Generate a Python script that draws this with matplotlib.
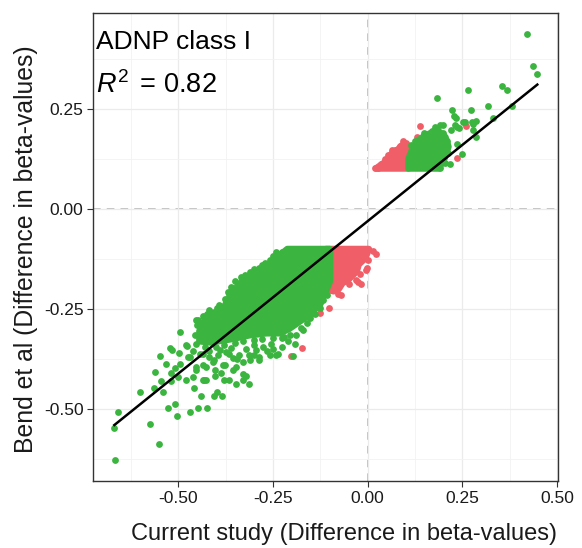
import numpy as np
import matplotlib
matplotlib.use("Agg")
import matplotlib.pyplot as plt
from matplotlib.patches import Polygon

plt.rcParams['font.family'] = ['Liberation Sans', 'DejaVu Sans']
plt.rcParams['axes.unicode_minus'] = False
plt.rcParams['mathtext.fontset'] = 'custom'
plt.rcParams['mathtext.it'] = 'Liberation Sans:italic'
plt.rcParams['mathtext.rm'] = 'Liberation Sans'

# current study (x) vs Bend et al (y), differences in beta-values
# green = significant in current study, red = not
green_x = [-0.669, -0.658, -0.667, -0.574, -0.552, -0.601, -0.561, -0.563, -0.548, -0.526,
           -0.508, -0.504, -0.468, -0.447, -0.424, -0.439, -0.458, -0.541, -0.545, -0.519,
           -0.533, -0.519, -0.517, -0.497, -0.478, -0.502, -0.481, -0.495, -0.453, -0.469,
           -0.444, -0.431, -0.427, -0.508, -0.406, -0.398, -0.385, -0.347, -0.330, -0.321,
           -0.314, -0.367, -0.380, -0.427, -0.435, -0.403, -0.462, -0.387,
           -0.495, -0.521, -0.480, -0.447, -0.436, -0.416, -0.444, -0.370, -0.334, -0.312,
           -0.279, -0.347, -0.387, -0.405, -0.365, -0.339, -0.286, -0.259, -0.242, -0.418,
           -0.392, -0.453,
           -0.474, -0.436, -0.418, -0.396, -0.374, -0.356, -0.330, -0.378, -0.402, -0.453,
           -0.347, -0.314, -0.294, -0.286, -0.277, -0.255, -0.242, -0.198, -0.193, -0.220,
           -0.171, -0.189, -0.153, -0.127, -0.118, -0.108, -0.436, -0.409, -0.383, -0.356,
           -0.330, -0.312, -0.286, -0.259, -0.237, -0.365, -0.339,
           -0.225, -0.250, -0.270, -0.300, -0.325, -0.350, -0.360, -0.378, -0.398, -0.425,
           -0.450, -0.455, -0.452,
           -0.430, -0.400, -0.380, -0.350, -0.330, -0.300, -0.280, -0.250, -0.225, -0.205,
           -0.175, -0.160, -0.140, -0.125,
           -0.420, -0.390, -0.360, -0.320, -0.300, -0.265, -0.225, -0.210, -0.460, -0.405,
           -0.345, -0.300, -0.250,
           0.420, 0.436, 0.448, 0.355, 0.369, 0.265, 0.183, 0.319, 0.381, 0.274,
           0.224, 0.332, 0.233, 0.287, 0.279, 0.252, 0.190, 0.220, 0.235, 0.287,
           0.248, 0.228, 0.257, 0.276, 0.230, 0.199, 0.241, 0.164, 0.133, 0.195,
           0.279, 0.235, 0.190, 0.217,
           0.115, 0.125, 0.145, 0.170, 0.178, 0.200, 0.210, 0.212, 0.205, 0.150]
green_y = [-0.548, -0.508, -0.628, -0.538, -0.588, -0.458, -0.408, -0.448, -0.368, -0.498,
           -0.488, -0.518, -0.508, -0.498, -0.498, -0.468, -0.448, -0.458, -0.429, -0.429,
           -0.386, -0.409, -0.353, -0.359, -0.343, -0.419, -0.428, -0.388, -0.401, -0.369,
           -0.361, -0.426, -0.394, -0.398, -0.468, -0.458, -0.468, -0.438, -0.428, -0.418,
           -0.438, -0.428, -0.428, -0.428, -0.428, -0.418, -0.419, -0.409,
           -0.308, -0.348, -0.340, -0.278, -0.268, -0.257, -0.328, -0.208, -0.169, -0.158,
           -0.139, -0.198, -0.244, -0.257, -0.211, -0.186, -0.148, -0.128, -0.107, -0.253,
           -0.240, -0.278,
           -0.369, -0.361, -0.369, -0.365, -0.357, -0.373, -0.382, -0.390, -0.403, -0.394,
           -0.394, -0.365, -0.353, -0.378, -0.344, -0.336, -0.365, -0.368, -0.336, -0.319,
           -0.301, -0.315, -0.273, -0.248, -0.228, -0.215, -0.390, -0.382, -0.390, -0.403,
           -0.411, -0.378, -0.369, -0.365, -0.361, -0.361, -0.365,
           -0.108, -0.118, -0.135, -0.150, -0.165, -0.180, -0.195, -0.225, -0.246, -0.262,
           -0.290, -0.315, -0.338,
           -0.345, -0.345, -0.340, -0.335, -0.330, -0.328, -0.325, -0.322, -0.322, -0.315,
           -0.298, -0.285, -0.262, -0.235,
           -0.355, -0.352, -0.348, -0.350, -0.340, -0.355, -0.345, -0.330, -0.355, -0.378,
           -0.375, -0.365, -0.350,
           0.439, 0.358, 0.339, 0.308, 0.298, 0.299, 0.279, 0.259, 0.259, 0.249,
           0.249, 0.229, 0.229, 0.221, 0.213, 0.218, 0.210, 0.199, 0.206, 0.181,
           0.139, 0.232, 0.218, 0.218, 0.210, 0.210, 0.202, 0.185, 0.168, 0.181,
           0.198, 0.164, 0.102, 0.114,
           0.160, 0.170, 0.182, 0.195, 0.205, 0.190, 0.170, 0.140, 0.115, 0.190]

red_x = [0.023, 0.001, -0.003, -0.017, -0.030, -0.070, -0.079, -0.102, -0.127, -0.174,
         -0.202, -0.189, -0.005, -0.021, -0.026, -0.048, -0.184, 0.015,
         0.261, 0.138, 0.093, 0.063, 0.019, 0.073, 0.129, 0.027, 0.237,
         0.045, 0.055, 0.085, 0.100, 0.035, 0.070]
red_y = [-0.111, -0.128, -0.148, -0.186, -0.178, -0.215, -0.211, -0.248, -0.259, -0.348,
         -0.368, -0.278, -0.151, -0.161, -0.182, -0.186, -0.278, -0.104,
         0.208, 0.209, 0.171, 0.149, 0.102, 0.149, 0.181, 0.102, 0.129,
         0.125, 0.135, 0.158, 0.165, 0.112, 0.145]

# outlines (marker centres) of the overplotted solid areas
green_core_neg_x = [-0.212, -0.235, -0.262, -0.288, -0.315, -0.336, -0.357, -0.384, -0.410, -0.434,
                    -0.444, -0.444, -0.415, -0.362, -0.312, -0.267, -0.233, -0.209, -0.183, -0.153,
                    -0.132, -0.114, -0.100, -0.100]
green_core_neg_y = [-0.100, -0.118, -0.143, -0.155, -0.168, -0.185, -0.208, -0.253, -0.265, -0.283,
                    -0.305, -0.330, -0.333, -0.325, -0.315, -0.310, -0.310, -0.300, -0.283, -0.263,
                    -0.243, -0.213, -0.180, -0.100]
red_core_neg_x = [-0.110, 0.003, -0.007, -0.024, -0.029, -0.050, -0.067, -0.077, -0.090, -0.110]
red_core_neg_y = [-0.100, -0.100, -0.123, -0.138, -0.155, -0.175, -0.185, -0.200, -0.205, -0.200]
green_core_pos_x = [0.108, 0.188, 0.203, 0.213, 0.205, 0.183, 0.156, 0.134, 0.118, 0.108]
green_core_pos_y = [0.102, 0.102, 0.128, 0.156, 0.180, 0.198, 0.185, 0.172, 0.150, 0.125]
red_core_pos_x = [0.023, 0.108, 0.108, 0.093, 0.079, 0.063, 0.050, 0.032]
red_core_pos_y = [0.102, 0.102, 0.158, 0.161, 0.148, 0.138, 0.120, 0.108]

# linear fit shown in the figure
fit_slope = 0.762
fit_intercept = -0.030
r2_text = "0.82"

green = "#3bb53f"
red = "#f05e68"

fig = plt.figure(figsize=(5.82, 5.48), dpi=100)
ax = fig.add_axes([0.160, 0.122, 0.799, 0.854])

ax.set_xlim(-0.725, 0.503)
ax.set_ylim(-0.68, 0.49)
ax.set_xticks([-0.5, -0.25, 0.0, 0.25, 0.5])
ax.set_yticks([-0.5, -0.25, 0.0, 0.25])
ax.set_xticks([-0.625, -0.375, -0.125, 0.125, 0.375], minor=True)
ax.set_yticks([-0.625, -0.375, -0.125, 0.125, 0.375], minor=True)
ax.set_xticklabels(["%.2f" % v for v in ax.get_xticks()])
ax.set_yticklabels(["%.2f" % v for v in ax.get_yticks()])
ax.grid(which='major', color='#ebebeb', lw=0.9, zorder=0)
ax.grid(which='minor', color='#f3f3f3', lw=0.6, zorder=0)
ax.tick_params(which='major', length=4, width=0.8, color='#333333', labelsize=12.5,
               labelcolor='#1a1a1a', pad=3)
ax.tick_params(which='minor', length=0)
for s in ax.spines.values():
    s.set_color('#333333')
    s.set_linewidth(1.0)

ax.axvline(0, color='#b0b0b0', lw=1.1, ls=(0, (5, 4)), zorder=1)
ax.axhline(0, color='#b0b0b0', lw=1.1, ls=(0, (5, 4)), zorder=1)

msize = 4.9  # marker diameter in points
for cx, cy in [(red_core_neg_x, red_core_neg_y), (red_core_pos_x, red_core_pos_y)]:
    ax.add_patch(Polygon(np.column_stack([cx, cy]), closed=True, fc=red, ec=red,
                         lw=msize, joinstyle='round', zorder=2))
ax.scatter(red_x, red_y, s=msize ** 2, c=red, lw=0, zorder=2)
for cx, cy in [(green_core_neg_x, green_core_neg_y), (green_core_pos_x, green_core_pos_y)]:
    ax.add_patch(Polygon(np.column_stack([cx, cy]), closed=True, fc=green, ec=green,
                         lw=msize, joinstyle='round', zorder=3))
ax.scatter(green_x, green_y, s=msize ** 2, c=green, lw=0, zorder=3)

all_x = np.array(green_x + red_x)
xs = np.array([all_x.min(), all_x.max()])
ax.plot(xs, fit_slope * xs + fit_intercept, color='black', lw=1.8, zorder=4)

ax.text(0.006, 0.965, "ADNP class I", transform=ax.transAxes, fontsize=19,
        va='top', ha='left', color='black')
ax.text(0.006, 0.875, r"$\mathit{R}^{2}\,$ = " + r2_text, transform=ax.transAxes, fontsize=19.5,
        va='top', ha='left', color='black')

fig.text(0.591, 0.0146, "Current study (Difference in beta-values)", fontsize=17,
         ha='center', va='baseline', color='#1a1a1a')
fig.text(0.0447, 0.5456, "Bend et al (Difference in beta-values)", fontsize=17.8,
         rotation=90, ha='center', va='center', color='#1a1a1a')

fig.savefig("out.png", dpi=100)
